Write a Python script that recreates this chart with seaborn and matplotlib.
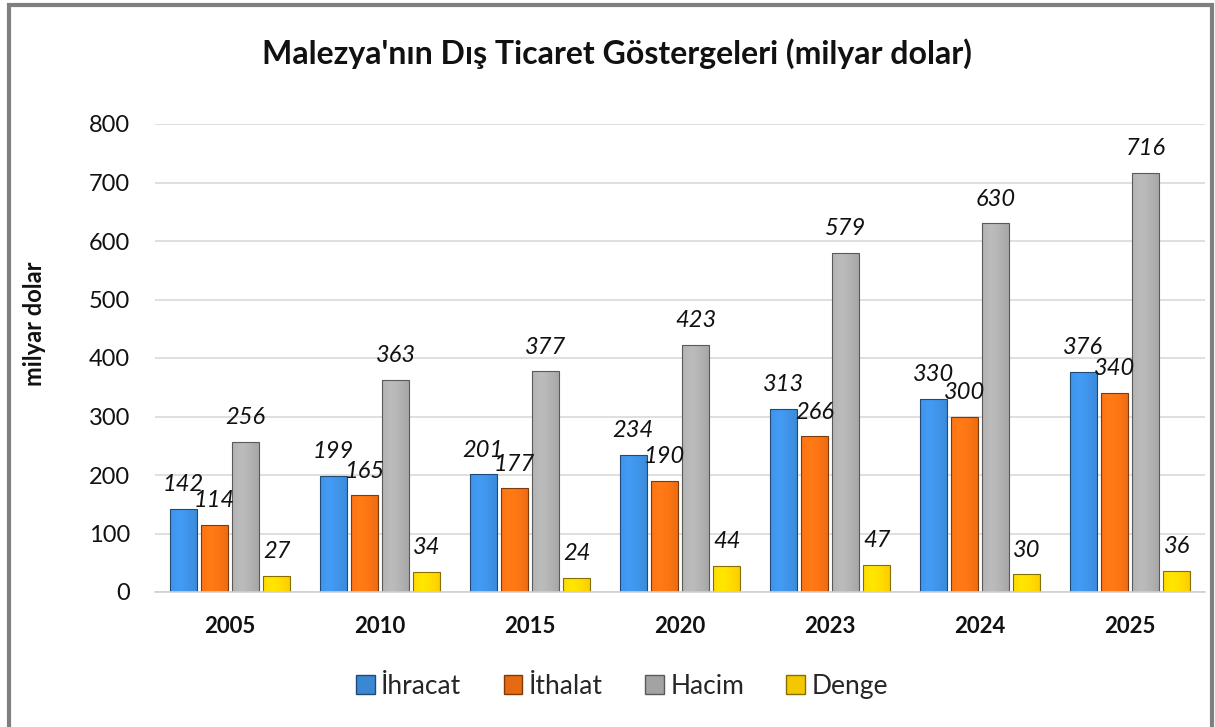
import matplotlib
matplotlib.use("Agg")
import matplotlib.pyplot as plt
import matplotlib.colors as mcolors
from matplotlib.patches import Rectangle
import seaborn as sns
import pandas as pd
import numpy as np

# ----------------------------------------------------------
# Data (milyar dolar)
# ----------------------------------------------------------
years = ['2005', '2010', '2015', '2020', '2023', '2024', '2025']
ihracat = [142, 199, 201, 234, 313, 330, 376]
ithalat = [114, 165, 177, 190, 266, 300, 340]
hacim = [256, 363, 377, 423, 579, 630, 716]
denge = [27, 34, 24, 44, 47, 30, 36]
series_names = ['İhracat', 'İthalat', 'Hacim', 'Denge']
colors = ['#3a87d4', '#e56a12', '#a3a3a3', '#f3c800']

df = pd.DataFrame({
    'Yıl': years * 4,
    'Değer': ihracat + ithalat + hacim + denge,
    'Seri': [s for s in series_names for _ in years],
})

sns.set_style("white")
plt.rcParams['font.family'] = ['Lato', 'DejaVu Sans']

fig = plt.figure(figsize=(12.15, 7.27), dpi=100)
ax = fig.add_axes([155 / 1215, 1 - 592 / 727, 1050 / 1215, 468 / 727])

sns.barplot(data=df, x='Yıl', y='Değer', hue='Seri', hue_order=series_names,
            palette=colors, width=0.83, gap=0.14, ax=ax,
            edgecolor='none', linewidth=0, legend=False)


def shade(patch, base):
    """Simple bevel-like horizontal gradient on top of a bar."""
    x0, y0 = patch.get_x(), patch.get_y()
    w, h = patch.get_width(), patch.get_height()
    rgb = np.array(mcolors.to_rgb(base))
    t = np.linspace(0, 1, 64)
    k = 1 - 0.55 * np.abs(t - 0.35) ** 1.3
    light = np.clip(rgb * (0.75 + 0.4 * k[:, None]), 0, 1)
    img = light[None, :, :]
    im = ax.imshow(img, extent=[x0, x0 + w, y0, y0 + h], aspect='auto',
                   zorder=patch.get_zorder() + 0.1, interpolation='bilinear')
    im.set_clip_path(patch)
    dark = tuple(np.clip(rgb * 0.55, 0, 1))
    ax.add_patch(Rectangle((x0, y0), w, h, fill=False, edgecolor=dark,
                           linewidth=0.8, zorder=patch.get_zorder() + 0.2))


for cont, col in zip(ax.containers, colors):
    for p in cont:
        shade(p, col)
    ax.bar_label(cont, fmt='%d', padding=10, fontsize=17, fontstyle='italic',
                 color='#111111', zorder=5)

ax.set_xlim(-0.5, 6.5)
ax.set_ylim(0, 800)
ax.set_yticks(range(0, 801, 100))
ax.yaxis.grid(True, color='#d9d9d9', linewidth=1.2)
ax.set_axisbelow(True)
for s in ['top', 'right', 'left']:
    ax.spines[s].set_visible(False)
ax.spines['bottom'].set_color('#d0d0d0')
ax.spines['bottom'].set_linewidth(1.2)
ax.tick_params(axis='y', length=0, pad=18, labelsize=17, labelcolor='#111111')
ax.tick_params(axis='x', length=0, pad=17, labelsize=16, labelcolor='#111111')
for lbl in ax.get_xticklabels():
    lbl.set_fontweight('bold')
ax.set_xlabel('')
ax.set_ylabel('')

fig.text(0.028, 0.555, 'milyar dolar', rotation=90, ha='center', va='center',
         fontsize=17, fontweight='bold', color='#111111')
fig.text(0.508, 0.926, "Malezya'nın Dış Ticaret Göstergeleri (milyar dolar)",
         ha='center', va='center', fontsize=23, fontweight='bold', color='#111111')

handles = [Rectangle((0, 0), 1, 1, facecolor=c,
                     edgecolor=tuple(np.array(mcolors.to_rgb(c)) * 0.55))
           for c in colors]
fig.legend(handles, series_names, loc='center', bbox_to_anchor=(0.512, 0.056),
           ncol=4, frameon=False, fontsize=19, handlelength=0.7,
           handleheight=0.7, handletextpad=0.25, columnspacing=1.6)

# outer chart frame
fig.patches.append(Rectangle((9 / 1215, -0.05), 1203 / 1215, 1.05 - 5 / 727,
                             transform=fig.transFigure, fill=False,
                             edgecolor='#7f7f7f', linewidth=3))

fig.savefig('out.png', dpi=100)
